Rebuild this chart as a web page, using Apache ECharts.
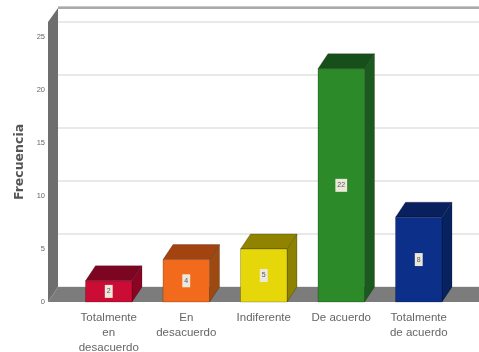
<!DOCTYPE html>
<html><head><meta charset="utf-8">
<style>html,body{margin:0;padding:0;background:#fff}#c{width:479px;height:352px;filter:blur(0.45px)}</style>
<script src="https://cdn.jsdelivr.net/npm/echarts@6/dist/echarts.min.js"></script>
</head><body><div id="c"></div>
<script>
const categories = ['Totalmente\nen\ndesacuerdo', 'En\ndesacuerdo', 'Indiferente', 'De acuerdo', 'Totalmente\nde acuerdo'];
const counts = [2, 4, 5, 22, 8];
const frontColors = ['#cb0c35', '#f26a1c', '#e6d70a', '#2c8a28', '#0c2f8a'];
const topColors = ['#7c0522', '#a3430f', '#8f8300', '#174f1a', '#08205e'];
const sideColors = ['#8c0424', '#9c4a12', '#8c8200', '#1a5a1e', '#06235f'];
const depthX = 10, depthY = 15;

const chart = echarts.init(document.getElementById('c'), null, {renderer: 'canvas'});
chart.setOption({
  animation: false,
  backgroundColor: '#fff',
  grid: [
    {left: 70, width: 387.5, top: 22, height: 280, outerBoundsMode: 'none'},
    {left: 58, right: 0, top: 7, height: 280, outerBoundsMode: 'none'}
  ],
  xAxis: [
    {type: 'category', gridIndex: 0, data: categories,
     axisLine: {show: false}, axisTick: {show: false},
     axisLabel: {interval: 0, margin: 8, fontFamily: 'Liberation Sans', fontSize: 11.5, lineHeight: 15, color: '#666'}},
    {type: 'category', gridIndex: 1, show: false, data: categories}
  ],
  yAxis: [
    {type: 'value', gridIndex: 0, min: 0, max: 26.4, interval: 5,
     name: 'Frecuencia', nameLocation: 'middle', nameGap: 44,
     nameTextStyle: {fontFamily: 'DejaVu Sans', fontWeight: 'bold', fontSize: 12.5, color: '#555'},
     axisLine: {show: false}, axisTick: {show: false}, splitLine: {show: false},
     axisLabel: {margin: 25, fontFamily: 'Liberation Sans', fontSize: 7.5, color: '#666', showMaxLabel: false}},
    {type: 'value', gridIndex: 1, min: 0, max: 26.4, interval: 5,
     axisLine: {show: false}, axisTick: {show: false}, axisLabel: {show: false},
     splitLine: {show: true, lineStyle: {color: '#e9e9e9', width: 2}}}
  ],
  graphic: [
    {type: 'rect', z: 1, shape: {x: 58, y: 6.5, width: 421, height: 2.5}, style: {fill: '#a9a9a9'}},
    {type: 'polygon', z: 1, shape: {points: [[48, 22], [58, 8], [58, 287], [48, 302]]}, style: {fill: '#6e6e6e'}},
    {type: 'polygon', z: 1, shape: {points: [[58, 287], [479, 287], [479, 302], [48, 302]]}, style: {fill: '#7c7c7c'}}
  ],
  series: [{
    type: 'custom',
    xAxisIndex: 0, yAxisIndex: 0,
    coordinateSystem: 'cartesian2d',
    clip: false,
    z: 3,
    data: counts.map((v, i) => [i, v]),
    encode: {x: 0, y: 1},
    renderItem(params, api) {
      const i = api.value(0), v = api.value(1);
      const top = api.coord([i, v]), base = api.coord([i, 0]);
      const w = api.size([1, 0])[0] * 0.6;
      const l = top[0] - w / 2, r = top[0] + w / 2, t = top[1], b = base[1];
      const line = {stroke: 'rgba(0,0,0,0.35)', lineWidth: 0.6};
      return {type: 'group', children: [
        {type: 'polygon', shape: {points: [[r, t], [r + depthX, t - depthY], [r + depthX, b - depthY], [r, b]]},
         style: {fill: sideColors[i], ...line}},
        {type: 'polygon', shape: {points: [[l, t], [l + depthX, t - depthY], [r + depthX, t - depthY], [r, t]]},
         style: {fill: topColors[i], ...line}},
        {type: 'rect', shape: {x: l, y: t, width: w, height: b - t}, style: {fill: frontColors[i], ...line}},
        {type: 'text', x: top[0], y: (t + b) / 2,
         style: {text: String(v), align: 'center', verticalAlign: 'middle', fontFamily: 'Liberation Sans', fontSize: 7,
                 fill: '#555', backgroundColor: '#ece9dc', padding: [3, 2]}}
      ]};
    }
  }]
});
</script></body></html>
